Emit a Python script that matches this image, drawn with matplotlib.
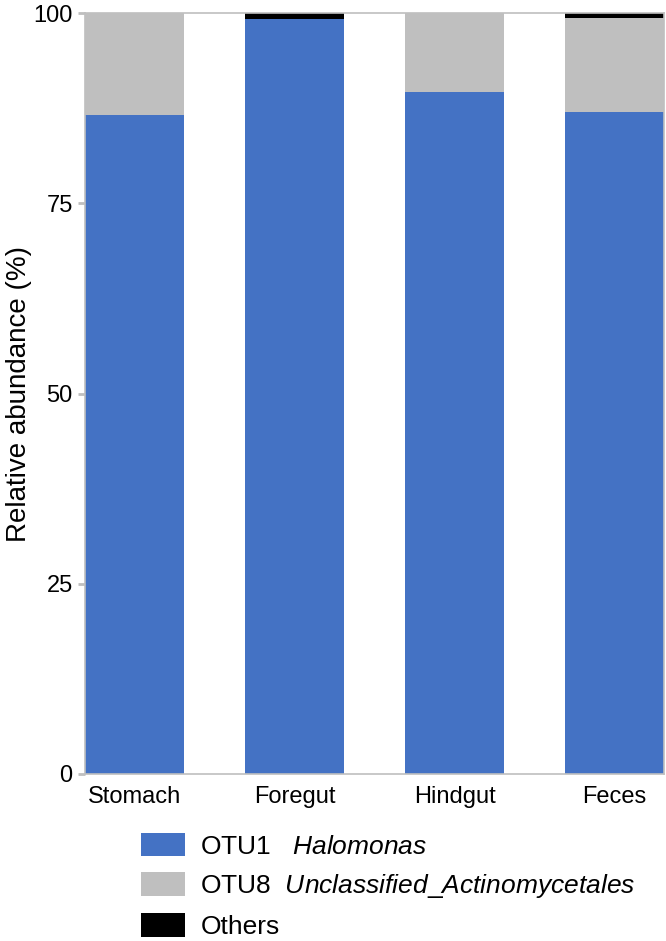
import matplotlib
matplotlib.use("Agg")
import matplotlib.pyplot as plt
from matplotlib.patches import Patch

plt.rcParams['font.family'] = ['Liberation Sans', 'DejaVu Sans']
plt.rcParams['mathtext.fontset'] = 'custom'
plt.rcParams['mathtext.rm'] = 'Liberation Sans'
plt.rcParams['mathtext.it'] = 'Liberation Sans:italic'

categories = ["Stomach", "Foregut", "Hindgut", "Feces"]
otu1 = [86.6, 99.2, 89.7, 87.0]
otu8 = [13.4, 0.0, 10.3, 12.4]
others = [0.0, 0.8, 0.0, 0.6]
series_labels = ["OTU1   $\\mathit{Halomonas}$",
                 "OTU8  $\\mathit{Unclassified\\_Actinomycetales}$",
                 "Others"]
colors = ["#4472C4", "#BFBFBF", "#000000"]
yticks = [0, 25, 50, 75, 100]

fig = plt.figure(figsize=(6.66, 9.41), dpi=100)
ax = fig.add_axes([0.128, 0.1775, 0.869, 0.8085])
x = list(range(len(categories)))
w = 0.62
ax.bar(x, otu1, width=w, color=colors[0], zorder=2)
ax.bar(x, otu8, width=w, bottom=otu1, color=colors[1], zorder=2)
bot2 = [a + b for a, b in zip(otu1, otu8)]
ax.bar(x, others, width=w, bottom=bot2, color=colors[2], zorder=2)

ax.set_xlim(-0.31, 3.31)
ax.set_ylim(0, 100)
ax.set_yticks(yticks)
ax.set_xticks(x)
ax.set_xticklabels(categories, fontsize=17)
ax.tick_params(axis='y', labelsize=17, colors='#BFBFBF', labelcolor='black', length=5, width=2, pad=4)
ax.tick_params(axis='x', length=0, pad=9)
for s in ax.spines.values():
    s.set_color('#BFBFBF')
    s.set_linewidth(1.2)
ax.set_ylabel("Relative abundance (%)", fontsize=20, labelpad=1)

handles = [Patch(facecolor=c) for c in colors]
fig.legend(handles, series_labels, loc='upper left', bbox_to_anchor=(0.212, 0.115),
           frameon=False, fontsize=19, handlelength=1.67, handleheight=1.0,
           labelspacing=0.5, handletextpad=0.57, borderpad=0, borderaxespad=0)

fig.savefig("out.png", dpi=100)
